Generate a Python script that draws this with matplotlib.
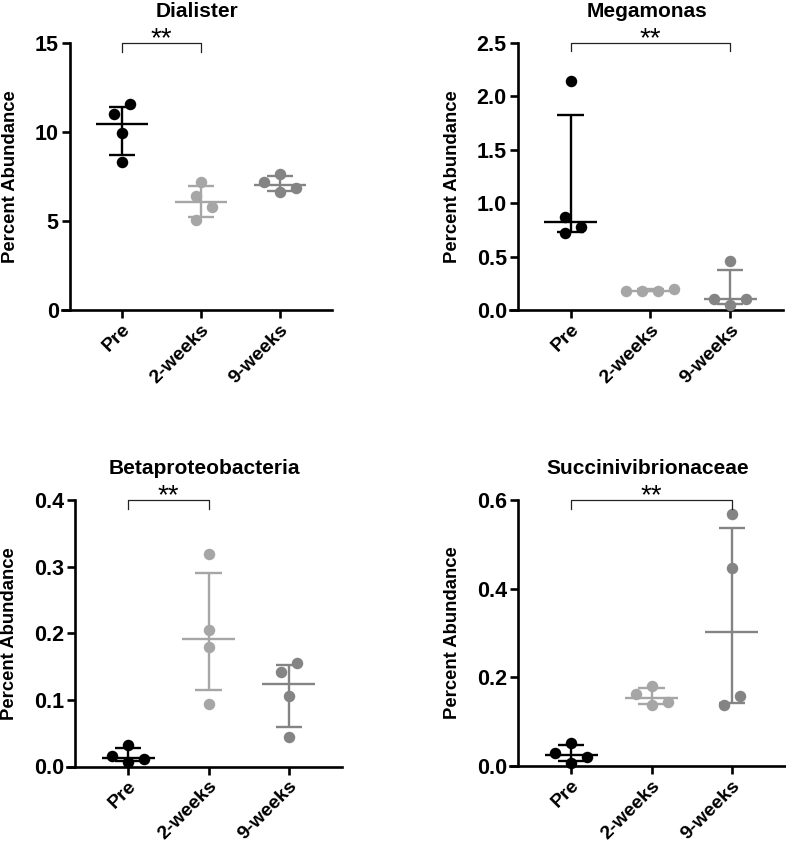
import numpy as np
import matplotlib
matplotlib.use("Agg")
import matplotlib.pyplot as plt
from matplotlib.ticker import FormatStrFormatter

plt.rcParams['font.family'] = ['Liberation Sans', 'DejaVu Sans']

# ---------------- data ----------------
groups = ["Pre", "2-weeks", "9-weeks"]
titles = ["Dialister", "Megamonas", "Betaproteobacteria", "Succinivibrionaceae"]

dialister_pre = [11.00, 11.57, 9.94, 8.33]
dialister_2w = [7.19, 6.40, 5.79, 5.06]
dialister_9w = [7.64, 6.65, 6.87, 7.21]

megamonas_pre = [2.14, 0.873, 0.776, 0.72]
megamonas_2w = [0.18, 0.18, 0.18, 0.20]
megamonas_9w = [0.46, 0.047, 0.106, 0.10]

beta_pre = [0.0075, 0.011, 0.016, 0.0325]
beta_2w = [0.319, 0.205, 0.179, 0.094]
beta_9w = [0.1415, 0.155, 0.106, 0.044]

succ_pre = [0.0526, 0.0075, 0.021, 0.0286]
succ_2w = [0.180, 0.137, 0.144, 0.163]
succ_9w = [0.568, 0.446, 0.138, 0.158]

y_ticks = [
    [0, 5, 10, 15],
    [0.0, 0.5, 1.0, 1.5, 2.0, 2.5],
    [0.0, 0.1, 0.2, 0.3, 0.4],
    [0.0, 0.2, 0.4, 0.6],
]
tick_formats = ["%d", "%.1f", "%.1f", "%.1f"]
significance = [(0, 1, "**"), (0, 2, "**"), (0, 1, "**"), (0, 2, "**")]

panel_data = [
    [dialister_pre, dialister_2w, dialister_9w],
    [megamonas_pre, megamonas_2w, megamonas_9w],
    [beta_pre, beta_2w, beta_9w],
    [succ_pre, succ_2w, succ_9w],
]

# ---------------- style ----------------
colors = ["#000000", "#a6a6a6", "#848484"]
W, H = 786, 848
# axes rectangles in pixels: left, right, top, bottom
rects_px = [(62, 332, 43, 310), (510, 783, 43, 310),
            (67, 342, 500, 766.5), (510, 785, 500, 766)]
ylabel_x = [-0.160, -0.178, -0.178, -0.178]
XLIM = (-0.76, 2.66)
SPINE_X = -0.66
DOT_D = 11.5  # px

fig = plt.figure(figsize=(W / 100, H / 100), dpi=100)


def swarm_offsets(ax, x0, vals, d=DOT_D, step=8.0, thresh=None):
    if thresh is None:
        thresh = d * 1.22
    trans = ax.transData
    ypx = [trans.transform((x0, v))[1] for v in vals]
    placed = []
    cands = [0]
    for k in range(1, 10):
        cands += [k * step, -k * step]
    offs = []
    for y in ypx:
        for c in cands:
            ok = all(np.hypot(c - o, y - py) >= thresh for o, py in placed)
            if ok:
                break
        placed.append((c, y))
        offs.append(c)
    # center connected clusters
    n = len(vals)
    comp = list(range(n))

    def find(a):
        while comp[a] != a:
            a = comp[a]
        return a
    for i in range(n):
        for j in range(i + 1, n):
            if abs(ypx[i] - ypx[j]) < thresh:
                comp[find(i)] = find(j)
    offs = np.array(offs, dtype=float)
    for r in set(find(i) for i in range(n)):
        idx = [i for i in range(n) if find(i) == r]
        if len(idx) > 1:
            offs[idx] -= offs[idx].mean()
    px_per_unit = trans.transform((1, 0))[0] - trans.transform((0, 0))[0]
    return offs / px_per_unit


for p in range(4):
    l, r, t, b = rects_px[p]
    ax = fig.add_axes([l / W, 1 - b / H, (r - l) / W, (b - t) / H])
    ymax = y_ticks[p][-1]
    ax.set_xlim(*XLIM)
    ax.set_ylim(0, ymax)
    for s in ["top", "right"]:
        ax.spines[s].set_visible(False)
    ax.spines["left"].set_position(("data", SPINE_X))
    ax.spines["left"].set_linewidth(1.9)
    ax.spines["bottom"].set_linewidth(1.9)
    ax.set_yticks(y_ticks[p])
    ax.yaxis.set_major_formatter(FormatStrFormatter(tick_formats[p]))
    ax.set_xticks(range(3))
    ax.set_xticklabels(groups, rotation=45, ha="right", va="top",
                       rotation_mode="anchor", fontsize=14, fontweight="bold")
    ax.tick_params(axis="both", direction="out", length=6, width=1.9)
    ax.tick_params(axis="y", labelsize=15.5, pad=2)
    ax.tick_params(axis="x", pad=2)
    for lab in ax.get_yticklabels():
        lab.set_fontweight("bold")
    ax.set_ylabel("Percent Abundance", fontsize=13.3, fontweight="bold")
    ax.yaxis.set_label_coords(ylabel_x[p], 0.5)
    ax.set_title(titles[p], fontsize=15, fontweight="bold", pad=19)

    for g in range(3):
        vals = np.array(panel_data[p][g], dtype=float)
        med = np.median(vals)
        q1, q3 = np.percentile(vals, [25, 75], method="weibull")
        c = colors[g]
        offs = swarm_offsets(ax, g, vals)
        ax.plot(g + offs, vals, "o", color=c, markersize=DOT_D * 0.72,
                markeredgewidth=0, clip_on=False, zorder=3)
        lw = 1.7
        ax.plot([g - 0.33, g + 0.33], [med, med], color=c, lw=lw, zorder=4,
                solid_capstyle="butt")
        ax.plot([g, g], [q1, q3], color=c, lw=lw, zorder=4, solid_capstyle="butt")
        for q in (q1, q3):
            ax.plot([g - 0.165, g + 0.165], [q, q], color=c, lw=lw, zorder=4,
                    solid_capstyle="butt")

    # significance bracket
    a, bb, txt = significance[p]
    drop = ymax * 8.5 / (b - t)
    ax.plot([a, a, bb, bb], [ymax - drop, ymax, ymax, ymax - drop],
            color="#222222", lw=0.9, clip_on=False, zorder=5)
    ax.annotate(txt, xy=((a + bb) / 2, ymax), xytext=(0, -2.5),
                textcoords="offset points", ha="center", va="baseline",
                fontsize=20, annotation_clip=False)

fig.savefig("out.png", dpi=100)
